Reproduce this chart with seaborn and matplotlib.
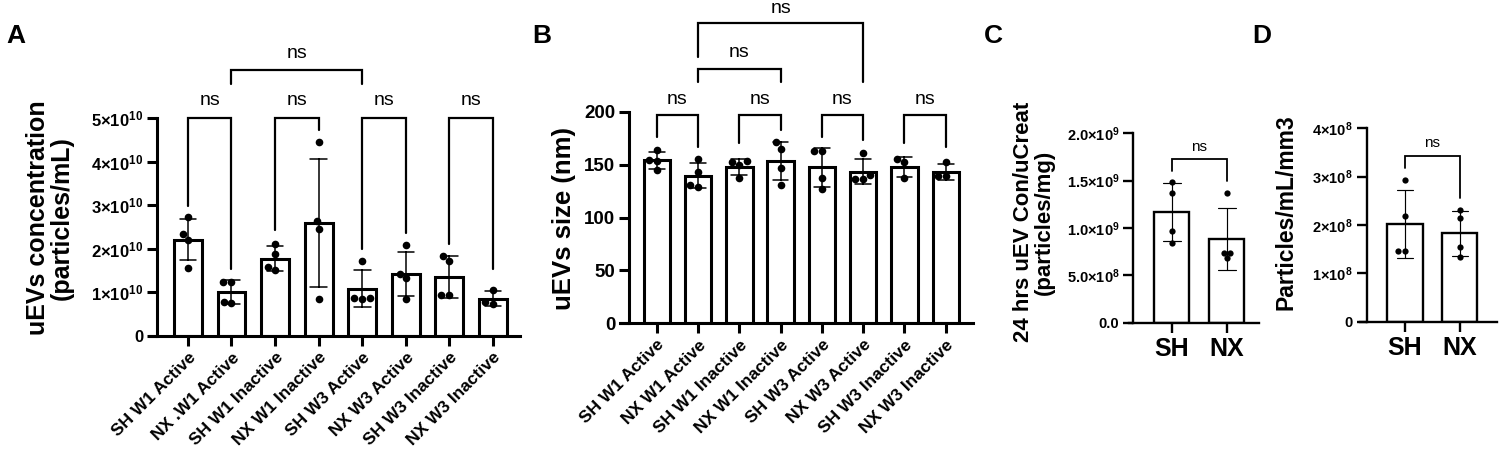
import numpy as np
import pandas as pd
import matplotlib
matplotlib.use('Agg')
import matplotlib.pyplot as plt
import seaborn as sns

# ---- data ----
a_groups = ['SH W1 Active', 'NX .W1 Active', 'SH W1 Inactive', 'NX W1 Inactive',
            'SH W3 Active', 'NX W3 Active', 'SH W3 Inactive', 'NX W3 Inactive']
a_values = [[2.72e10, 2.35e10, 2.21e10, 1.57e10],
            [1.24e10, 1.24e10, 0.76e10, 0.78e10],
            [2.12e10, 1.88e10, 1.51e10, 1.59e10],
            [4.44e10, 2.63e10, 2.46e10, 0.84e10],
            [1.72e10, 0.88e10, 0.86e10, 0.87e10],
            [2.08e10, 1.43e10, 1.32e10, 0.86e10],
            [1.72e10, 1.83e10, 0.93e10, 0.93e10],
            [1.06e10, 0.78e10, 0.73e10]]
a_yticks = [0, 1e10, 2e10, 3e10, 4e10, 5e10]
a_yticklabels = ['0', '1×10$^{10}$', '2×10$^{10}$', '3×10$^{10}$', '4×10$^{10}$', '5×10$^{10}$']

b_groups = ['SH W1 Active', 'NX W1 Active', 'SH W1 Inactive', 'NX W1 Inactive',
            'SH W3 Active', 'NX W3 Active', 'SH W3 Inactive', 'NX W3 Inactive']
b_values = [[164, 154, 153, 145],
            [155, 143, 129, 131],
            [152, 153, 150, 137],
            [171, 165, 147, 131],
            [163, 163, 137, 127],
            [161, 136, 136, 140],
            [155, 152, 137],
            [152, 139, 139]]
b_yticks = [0, 50, 100, 150, 200]
b_yticklabels = ['0', '50', '100', '150', '200']

c_groups = ['SH', 'NX']
c_values = [[1.49e9, 1.37e9, 0.97e9, 0.845e9],
            [1.37e9, 0.68e9, 0.74e9, 0.74e9]]
c_yticks = [0, 5e8, 1e9, 1.5e9, 2e9]
c_yticklabels = ['0.0', '5.0×10$^{8}$', '1.0×10$^{9}$', '1.5×10$^{9}$', '2.0×10$^{9}$']

d_groups = ['SH', 'NX']
d_values = [[2.94e8, 2.19e8, 1.47e8, 1.47e8],
            [2.31e8, 2.14e8, 1.55e8, 1.33e8]]
d_yticks = [0, 1e8, 2e8, 3e8, 4e8]
d_yticklabels = ['0', '1×10$^{8}$', '2×10$^{8}$', '3×10$^{8}$', '4×10$^{8}$']

# significance brackets: (x1, x2, bracket y, left leg end, right leg end, text y)
a_brackets = [(0, 1, 5.0e10, 2.98e10, 1.53e10, 5.4e10),
              (2, 3, 5.0e10, 2.42e10, 4.73e10, 5.4e10),
              (4, 5, 5.0e10, 2.0e10, 2.37e10, 5.4e10),
              (6, 7, 5.0e10, 2.11e10, 1.53e10, 5.4e10),
              (1, 4, 6.09e10, 5.79e10, 5.79e10, 6.48e10)]
b_brackets = [(0, 1, 197, 176, 167, 212),
              (2, 3, 197, 170, 183, 212),
              (4, 5, 197, 176, 173, 212),
              (6, 7, 197, 170, 167, 212),
              (1, 3, 240, 228, 228, 256),
              (1, 5, 283.5, 252, 228, 298)]
c_brackets = [(0, 1, 1.725e9, 1.6e9, 1.5e9, 1.86e9)]
d_brackets = [(0, 1, 3.43e8, 3.17e8, 2.55e8, 3.7e8)]

sns.set_style('ticks')
plt.rcParams['font.family'] = ['Liberation Sans', 'DejaVu Sans']
plt.rcParams['font.weight'] = 'bold'
plt.rcParams['mathtext.fontset'] = 'custom'
plt.rcParams['mathtext.rm'] = 'Liberation Sans:bold'
plt.rcParams['mathtext.bf'] = 'Liberation Sans:bold'
plt.rcParams['mathtext.default'] = 'rm'
for key in ('text.color', 'axes.labelcolor', 'xtick.color', 'ytick.color',
            'axes.edgecolor'):
    plt.rcParams[key] = 'black'

W, H = 1500, 451
fig = plt.figure(figsize=(15, 4.51), dpi=100)


def px_axes(x0, x1, ytop, ybot):
    return fig.add_axes([x0 / W, 1 - ybot / H, (x1 - x0) / W, (ybot - ytop) / H])


def long_df(groups, values):
    rows = [(g, v) for g, vals in zip(groups, values) for v in vals]
    return pd.DataFrame(rows, columns=['group', 'value'])


def panel(ax, groups, values, yticks, yticklabels, xlim, spine_x, lw, caps,
          dot, ytick_fs, xtick_fs, rot, brackets, ns_fs, br_lw):
    df = long_df(groups, values)
    sns.barplot(data=df, x='group', y='value', order=groups, errorbar='sd',
                capsize=caps, color='white', saturation=1, edgecolor='black',
                linewidth=lw, width=0.64,
                err_kws={'color': 'black', 'linewidth': lw * 0.5}, ax=ax)
    sns.swarmplot(data=df, x='group', y='value', order=groups, color='black',
                  size=dot, ax=ax, zorder=4)
    sns.despine(ax=ax)
    # move the y spine first: set_position resets the tick objects
    ax.spines['left'].set_position(('data', spine_x))
    for s in ('left', 'bottom'):
        ax.spines[s].set_linewidth(lw)
    ax.set_ylim(yticks[0], yticks[-1])
    ax.set_xlim(*xlim)
    ax.set_yticks(yticks)
    ax.set_yticklabels(yticklabels, fontsize=ytick_fs, fontweight='bold')
    ax.set_xticks(range(len(groups)))
    if rot:
        ax.set_xticklabels(groups, rotation=45, ha='right',
                           rotation_mode='anchor', fontsize=xtick_fs,
                           fontweight='bold')
    else:
        ax.set_xticklabels(groups, fontsize=xtick_fs, fontweight='bold')
    ax.set_xlabel('')
    ax.set_ylabel('')
    ax.tick_params(axis='both', length=7, width=lw, pad=3)
    for x1, x2, y, l1, l2, ty in brackets:
        ax.plot([x1, x1, x2, x2], [l1, y, y, l2], color='black', lw=br_lw,
                clip_on=False, solid_joinstyle='miter')
        ax.text((x1 + x2) / 2, ty, 'ns', ha='center', va='center',
                fontsize=ns_fs, fontweight='normal', clip_on=False)


axA = px_axes(150, 520, 118, 336)
panel(axA, a_groups, a_values, a_yticks, a_yticklabels, (-0.87, 7.62), -0.71,
      2.2, 0.38, 5.5, 12, 12.5, True, a_brackets, 14, 1.6)

axB = px_axes(620, 973, 111.7, 323.3)
panel(axB, b_groups, b_values, b_yticks, b_yticklabels, (-0.89, 7.66), -0.67,
      2.2, 0.38, 5.5, 13.5, 12.5, True, b_brackets, 14, 1.6)

axC = px_axes(1129, 1259, 133.3, 322.7)
panel(axC, c_groups, c_values, c_yticks, c_yticklabels, (-0.78, 1.59), -0.70,
      1.7, 0.33, 4.5, 10.5, 18, False, c_brackets, 11, 1.3)

axD = px_axes(1360, 1496.7, 128.3, 321.7)
panel(axD, d_groups, d_values, d_yticks, d_yticklabels, (-0.82, 1.67), -0.70,
      1.7, 0.30, 4.5, 10.5, 18, False, d_brackets, 11, 1.3)

# y-axis titles
fig.text(50 / W, 1 - 218 / H, 'uEVs concentration\n(particles/mL)', rotation=90,
         ha='center', va='center', fontsize=18, fontweight='bold', linespacing=1.0)
fig.text(564 / W, 1 - 218 / H, 'uEVs size (nm)', rotation=90,
         ha='center', va='center', fontsize=18.5, fontweight='bold')
fig.text(1034 / W, 1 - 222 / H, '24 hrs uEV Con/uCreat\n(particles/mg)', rotation=90,
         ha='center', va='center', fontsize=16, fontweight='bold', linespacing=1.0)
fig.text(1286 / W, 1 - 212 / H, 'Particles/mL/mm3', rotation=90,
         ha='center', va='center', fontsize=16.5, fontweight='bold')

# panel letters
for letter, x in (('A', 16), ('B', 542), ('C', 993), ('D', 1262)):
    fig.text(x / W, 1 - 36 / H, letter, ha='center', va='center',
             fontsize=19, fontweight='bold')

fig.savefig('out.png', dpi=100)
